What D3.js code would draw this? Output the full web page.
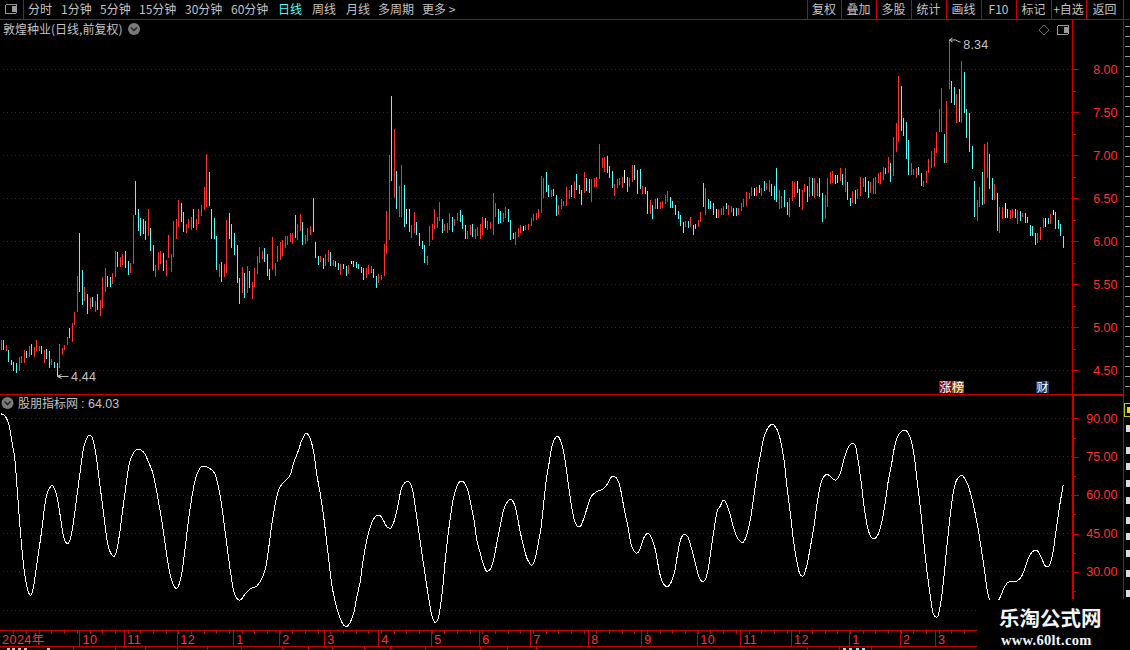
<!DOCTYPE html>
<html>
<head>
<meta charset="utf-8">
<title>敦煌种业</title>
<script src="https://cdn.jsdelivr.net/npm/d3@7"></script>
<style>
html, body { margin: 0; padding: 0; background: #000; overflow: hidden; }
svg { display: block; }
text { font-family: "Noto Sans CJK SC", "Liberation Sans", sans-serif; font-size: 12px; fill: #c4c4c4; }
.num { font-family: "Liberation Sans", sans-serif; font-size: 12.5px; fill: #ff3232; }
.domain { display: none; }
</style>
</head>
<body>
<div id="chart"></div>
<script>
// daily bars, only the high-low stroke is visible at this zoom level (one row = 10 bars)
var barHigh = [
  4.85,4.85,4.80,4.74,4.62,4.60,4.59,4.66,4.67,4.74,
  4.72,4.78,4.81,4.77,4.85,4.78,4.78,4.74,4.75,4.72,
  4.63,4.60,4.59,4.81,4.76,4.80,4.89,4.99,5.05,5.18,
  5.60,6.10,5.67,5.47,5.39,5.34,5.35,5.31,5.39,5.32,
  5.59,5.69,5.60,5.58,5.63,5.89,5.87,5.82,5.85,5.89,
  5.77,5.75,6.31,6.70,6.38,6.27,6.26,6.24,6.38,6.16,
  5.96,5.73,5.88,5.89,5.86,5.78,6.07,5.85,6.24,6.26,
  6.48,6.45,6.34,6.20,6.26,6.28,6.38,6.26,6.38,6.42,
  6.63,7.02,6.81,6.38,6.27,6.06,5.74,5.76,5.74,6.25,
  6.33,6.20,6.10,5.96,5.57,5.70,5.63,5.71,5.66,5.53,
  5.69,5.83,5.93,5.89,5.92,5.85,5.68,6.05,5.75,5.95,
  5.99,6.02,6.06,6.06,6.10,6.10,6.31,6.20,6.32,6.23,
  6.07,6.16,6.18,6.50,5.99,5.83,5.83,5.81,5.85,5.90,
  5.88,5.78,5.77,5.75,5.74,5.74,5.71,5.72,5.77,5.77,
  5.76,5.74,5.70,5.69,5.69,5.72,5.71,5.68,5.60,5.62,
  5.61,5.97,6.35,7.00,7.69,7.31,6.82,6.64,6.89,6.66,
  6.38,6.38,6.19,6.34,6.23,6.10,6.00,5.96,5.83,6.18,
  6.20,6.38,6.28,6.46,6.26,6.20,6.21,6.33,6.28,6.26,
  6.33,6.36,6.31,6.19,6.12,6.19,6.20,6.14,6.17,6.20,
  6.28,6.27,6.24,6.23,6.56,6.45,6.38,6.35,6.33,6.40,
  6.38,6.25,6.10,6.11,6.16,6.19,6.18,6.19,6.20,6.27,
  6.32,6.33,6.38,6.76,6.74,6.81,6.66,6.60,6.61,6.54,
  6.42,6.49,6.47,6.63,6.60,6.66,6.70,6.78,6.66,6.60,
  6.81,6.74,6.73,6.73,6.74,6.75,7.13,6.97,6.98,6.99,
  6.87,6.82,6.67,6.73,6.74,6.75,6.83,6.75,6.74,6.89,
  6.89,6.83,6.84,6.64,6.63,6.59,6.48,6.42,6.49,6.50,
  6.46,6.47,6.54,6.59,6.52,6.47,6.42,6.35,6.31,6.23,
  6.24,6.24,6.28,6.19,6.20,6.25,6.34,6.68,6.62,6.49,
  6.47,6.45,6.37,6.38,6.39,6.41,6.45,6.42,6.41,6.39,
  6.39,6.39,6.45,6.49,6.57,6.56,6.63,6.62,6.63,6.66,
  6.62,6.70,6.68,6.71,6.67,6.64,6.85,6.60,6.53,6.60,
  6.46,6.50,6.70,6.69,6.70,6.61,6.60,6.67,6.64,6.75,
  6.74,6.74,6.68,6.74,6.56,6.54,6.74,6.81,6.82,6.77,
  6.77,6.85,6.78,6.85,6.69,6.50,6.58,6.60,6.61,6.75,
  6.74,6.75,6.70,6.69,6.74,6.75,6.79,6.81,6.86,6.85,
  6.98,6.91,7.21,7.38,7.92,7.81,7.43,7.39,7.18,6.91,
  6.84,6.85,6.86,6.79,6.70,6.82,6.96,7.05,7.09,7.27,
  7.54,7.78,7.25,7.63,8.34,7.86,7.79,7.71,7.77,8.10,
  7.97,7.54,7.49,7.11,6.70,6.48,6.63,6.81,7.13,7.15,
  7.02,6.74,6.67,6.56,6.40,6.40,6.45,6.38,6.36,6.38,
  6.38,6.36,6.35,6.33,6.33,6.28,6.19,6.18,6.10,6.10,
  6.17,6.27,6.27,6.27,6.32,6.36,6.34,6.25,6.20,6.06
];
var barLow = [
  4.74,4.74,4.72,4.60,4.56,4.49,4.47,4.49,4.59,4.58,
  4.64,4.65,4.68,4.66,4.73,4.72,4.69,4.59,4.63,4.53,
  4.56,4.53,4.44,4.53,4.68,4.74,4.80,4.87,4.83,5.03,
  5.18,5.41,5.26,5.31,5.16,5.21,5.24,5.18,5.20,5.13,
  5.23,5.41,5.47,5.47,5.50,5.59,5.70,5.70,5.72,5.69,
  5.61,5.63,5.74,6.31,6.12,6.06,6.09,6.02,6.06,5.89,
  5.65,5.59,5.67,5.74,5.65,5.60,5.81,5.64,5.82,6.03,
  6.17,6.22,6.11,6.10,6.16,6.13,6.16,6.13,6.20,6.29,
  6.36,6.40,6.41,6.03,6.03,5.67,5.59,5.53,5.59,5.63,
  6.03,5.92,5.84,5.52,5.27,5.40,5.34,5.40,5.46,5.33,
  5.47,5.62,5.75,5.80,5.76,5.60,5.55,5.67,5.60,5.76,
  5.78,5.83,5.92,5.96,5.99,5.97,6.04,6.02,6.12,5.96,
  5.97,6.00,6.07,6.11,5.81,5.72,5.76,5.68,5.71,5.76,
  5.71,5.71,5.70,5.67,5.61,5.68,5.60,5.62,5.74,5.70,
  5.69,5.68,5.63,5.55,5.57,5.62,5.63,5.57,5.46,5.52,
  5.55,5.60,5.85,6.02,6.70,6.50,6.38,6.28,6.28,6.17,
  6.20,6.11,6.04,6.10,6.07,5.95,5.91,5.75,5.72,5.95,
  6.02,6.14,6.16,6.24,6.10,6.12,6.10,6.13,6.11,6.18,
  6.24,6.23,6.14,6.03,6.03,6.07,6.05,6.03,6.06,6.03,
  6.07,6.16,6.13,6.14,6.07,6.28,6.20,6.21,6.23,6.27,
  6.23,6.02,6.03,5.96,6.05,6.10,6.12,6.13,6.13,6.18,
  6.24,6.25,6.27,6.33,6.50,6.57,6.52,6.52,6.53,6.30,
  6.31,6.37,6.41,6.41,6.49,6.52,6.50,6.60,6.55,6.42,
  6.56,6.59,6.56,6.46,6.63,6.63,6.73,6.85,6.81,6.80,
  6.74,6.62,6.53,6.62,6.66,6.62,6.68,6.57,6.63,6.69,
  6.71,6.55,6.61,6.55,6.55,6.32,6.32,6.26,6.38,6.38,
  6.38,6.39,6.43,6.46,6.39,6.39,6.31,6.26,6.18,6.10,
  6.17,6.16,6.17,6.07,6.14,6.17,6.23,6.40,6.31,6.37,
  6.38,6.31,6.27,6.27,6.31,6.31,6.37,6.31,6.34,6.30,
  6.30,6.31,6.35,6.40,6.41,6.49,6.53,6.53,6.53,6.56,
  6.53,6.59,6.60,6.57,6.53,6.48,6.46,6.37,6.39,6.40,
  6.31,6.28,6.47,6.51,6.56,6.40,6.36,6.57,6.46,6.51,
  6.53,6.50,6.53,6.51,6.22,6.26,6.40,6.67,6.68,6.67,
  6.68,6.70,6.66,6.57,6.48,6.41,6.45,6.43,6.49,6.53,
  6.63,6.57,6.50,6.56,6.55,6.55,6.68,6.67,6.71,6.78,
  6.79,6.69,6.76,7.04,7.15,7.28,7.22,6.96,6.77,6.77,
  6.77,6.74,6.77,6.64,6.63,6.68,6.79,6.85,6.86,7.03,
  7.27,7.27,6.91,6.91,7.77,7.61,7.58,7.38,7.39,7.38,
  7.49,7.20,7.04,6.84,6.28,6.24,6.40,6.42,6.43,6.74,
  6.61,6.48,6.48,6.12,6.10,6.26,6.27,6.27,6.26,6.27,
  6.27,6.20,6.24,6.28,6.21,6.21,6.06,6.06,5.96,5.98,
  6.01,6.15,6.17,6.20,6.20,6.31,6.14,6.14,6.06,5.92
];
// u = up, d = down, w = doji
var barType = (
  "u d u d d d d u u u " + "d u d u u u d u d d " + "u d d u u u u d u u " +
  "u d d u d u d u d u " + "u u d d u u d u u d " + "d u u d d d d d u d " +
  "d u u u d u u u u u " + "u d d u u u d u u u " + "u u d d d d u d u u " +
  "d d d d d u d u d u " + "u u u u d d d u u u " + "u u u u u u d u u d " +
  "u u u d d d u d u u " + "d u d d u d d u w d " + "d d d d u u u d d u " +
  "u u u u d u d u u d " + "w d u u d d d d u u " + "u u u u d u u u d u " +
  "u d d d u u d u u u " + "u d u u u u d d u u " + "d d d u u u w u u u " +
  "u u u u u d d u d d " + "u u u u u d u d d d " + "u d d u u u u u u d " +
  "d d u u u u w d u u " + "d d d u d d u d u d " + "u u u u d d d d d d " +
  "u d u d d u u d u d " + "d d w u u u d u u d " + "d u u u u u u w u d " +
  "u d u u d d d u u d " + "d u u u d d u u d u " + "d u u d d u u u u d " +
  "d u d u d d u d u u " + "u d d u u u u u u d " + "u d u u u d d d d u " +
  "u u d d u u u u u u " + "u u d u u d d u d u " + "d d d d d u u d u u " +
  "d d u d u u w d u u " + "d u d u d d d d d u " + "u u w d u w d d d d"
).split(" ");

var oscPoints = [
  [0,91.7],[1.1,91.3],[2.1,89.9],[3.2,86.7],[4.2,80.9],[5.3,74.4],[6.1,64.6],[7.6,45.1],[9.2,29.5],[10.9,21.6],
  [11.7,20.9],[12.6,23.6],[13.7,30.8],[15.8,45.1],[17.9,60.1],[19,62.7],[20.2,63.8],[21.2,62],[22.1,58.8],[23.2,52.2],
  [24.2,45.7],[25.3,41.8],[26.3,41],[27.4,43.5],[28.4,49],[30.5,64.6],[32.6,78.9],[33.7,82.2],[34.8,83.4],[35.8,82.6],
  [36.9,78.3],[37.9,71.8],[40,55.5],[42.1,40.5],[43.2,37.3],[44.4,36],[45.4,37.9],[46.5,43.8],[48.6,59.4],[50.7,73.1],
  [51.7,75.7],[52.8,77.4],[54.1,77.9],[55.4,77.4],[56.5,76.3],[58,73.1],[59.4,69.8],[60.7,64.6],[62,57.4],[63.3,50.3],
  [64.6,41.2],[65.9,32.7],[67,27.5],[68,24.6],[69.1,23.5],[70.2,25.3],[71.2,29.5],[72.3,37.3],[74.4,54.2],[76.5,65.9],
  [77.5,68.8],[78.8,71.1],[80.4,71.3],[82.4,70.3],[84,68.8],[85,65.9],[86.3,60.1],[88.4,45.1],[90.5,29.5],[91.6,22.9],
  [92.6,20.1],[93.7,19],[94.7,19.3],[96.2,21.4],[98.2,23.3],[100.8,24.5],[102.1,26.2],[104.1,30.8],[105.1,36.6],[107.3,52.2],
  [109.4,62],[110.7,64.3],[112.4,65.9],[114,67.9],[115.3,72.4],[117.3,77.6],[118.6,81.5],[120.3,84.1],[121.6,82.8],[123.2,77],
  [124.5,67.9],[125.8,60.7],[127.1,52.2],[129.2,34.7],[130.3,25.5],[131.3,20.3],[132.6,15.1],[134,11.2],[135,9.3],[136.3,8.6],
  [137.6,10.2],[139,13.8],[140.3,20.3],[141.6,26.2],[142.6,33.4],[143.7,39.9],[144.7,44.4],[145.8,48.3],[146.9,50.7],[148.2,52],
  [149.5,52],[150.8,50],[152.1,47.7],[153.4,47],[154.7,49],[155.8,52.9],[156.9,58.1],[157.9,62.7],[159,64.6],[160.1,65.4],
  [161.3,64.6],[162.4,61.4],[163.4,54.8],[165.5,40.5],[167.6,26.2],[169,17.7],[170,12.5],[171.1,10.3],[172.1,11],[173.2,16.4],
  [174.2,24.2],[175.3,36],[177.4,52.9],[178.4,58.8],[179.5,62.7],[180.5,64.9],[181.6,65.5],[182.6,64.9],[184,62],[185.3,56.1],
  [186.6,49.6],[187.6,42.5],[189,37.3],[190.3,32.7],[191.6,30.2],[192.9,31],[194.2,34.7],[195.5,41.2],[196.9,48.3],[198.2,54.2],
  [199.5,57.1],[201.1,58.4],[202.4,56.5],[203.7,50.9],[205,44.4],[206.1,39.9],[207.4,35.3],[209.2,32.6],[210.5,34.7],[211.6,39.9],
  [212.9,47],[214,56.8],[215,65.9],[216.1,72.4],[217.1,78.3],[218.2,81.8],[219.5,83],[220.8,80.9],[222.1,75.7],[223.4,66.6],
  [224.8,56.8],[226.1,50.3],[227.4,47.7],[228.4,47.7],[229.8,50.9],[231.1,54.8],[232.9,59.7],[235,61.4],[237.4,62.3],[239.3,64.6],
  [240.6,67],[241.9,67.3],[243.2,65.9],[244.5,61.4],[245.8,54.2],[247.1,48.3],[248.4,41.2],[249.5,38.3],[250.8,37.3],[252.1,39.2],
  [253.4,43.1],[255,45.1],[256.3,43.8],[257.9,39.2],[259,33.4],[260.3,27.5],[261.6,24.9],[262.9,24.2],[264.2,25.8],[265.5,29.5],
  [266.9,37.3],[268.2,43.1],[269.5,44.8],[270.8,43.8],[272.1,39.9],[273.5,34.7],[274.8,29.5],[276.1,26.5],[277.4,26.5],[278.7,30.1],
  [280,38.6],[281.3,47],[282.6,54.2],[283.7,55.8],[285,58.1],[286.3,56.1],[287.6,52.2],[289.2,46.4],[290.9,42.5],[292.5,41.4],
  [293.9,43.8],[295.5,50.3],[296.9,59.4],[298.2,68.5],[299.5,75.7],[300.8,82.2],[302.4,86.1],[304.1,87.7],[305.8,86.1],[307.4,81.5],
  [308.7,74.4],[310,63.3],[311.3,52.9],[312.7,41.2],[314,33.4],[315.3,28.8],[316.3,28.4],[317.7,32.1],[319,38.6],[320.6,47.7],
  [321.9,56.8],[323.2,64],[324.5,67.2],[325.8,68.1],[327.4,67],[329.1,65.8],[330.8,67.9],[332.4,73.7],[334,78.3],[335.3,80],
  [336.6,79.8],[337.9,74.4],[339.3,64.6],[340.6,54.2],[341.9,47],[343.2,43.5],[344.5,42.9],[345.8,44.4],[347.4,49.6],[348.7,56.8],
  [350,65.9],[351.3,72.4],[352.6,79.6],[354,83.5],[355.6,85.2],[356.9,85.2],[358.7,82.2],[360,76.3],[361.3,65.9],[362.7,54.2],
  [364,41.2],[365.3,29.5],[366.6,20.3],[367.9,13.2],[369.2,12.3],[370.5,17.1],[371.9,28.2],[373.2,41.2],[374.5,52.9],[375.8,62],
  [377.1,66.2],[379,67.6],[380.8,65.3],[382.9,58.8],[385,49],[386.3,41.2],[387.7,32.1],[389,22.9],[390,19],[391.9,17],
  [393.7,19.3],[395.6,23.6],[397.1,25.9],[398.8,26.3],[400.8,26.5],[402.5,28.2],[404.1,32.1],[405.8,36.6],[407.4,38.3],[408.7,38.3],
  [410.7,34.7],[412,32.3],[413.3,32.3],[414.6,36],[416,45.1],[417.3,54.2],[418.5,61.4],[419,64.03]
];

// axis labels
var priceTicks = [4.5, 5, 5.5, 6, 6.5, 7, 7.5, 8];
var oscTicks = [15, 30, 45, 60, 75, 90];
var monthLabels = ["2024年","10","11","12","1","2","3","4","5","6","7","8","9","10","11","12","1","2","3"];
var monthBars = [0,30.9,48.5,69.4,91.5,109.7,127.4,148.7,169.6,188.6,208.7,231.6,252.5,274.6,291.5,311.6,334.5,354.6,368.4];
var periodLabels = ["分时","1分钟","5分钟","15分钟","30分钟","60分钟","日线","周线","月线","多周期","更多 >"];
var buttonLabels = ["复权","叠加","多股","统计","画线","F10","标记","+自选","返回"];

// layout
var W = 1130, H = 650;
var periodX = [28,61,100,139,185,231,278,312,346,378,422];
var buttonEdge = [807,841,876,911,946,981,1016,1051,1086,1123];
var axisX = 1072, rightX = 1123, cutX = 977, cutY = 599;

var RED = "#c80000", GRID = "#a00000", UP = "#ff3232", DOWN = "#54fcfc", DOJI = "#ffffff";

var svg = d3.select("#chart").append("svg").attr("width", W).attr("height", H)
  .style("shape-rendering", "crispEdges");

var x = d3.scaleLinear().domain([0, barHigh.length - 1]).range([1.3, 1063.3]);
var y = d3.scaleLinear().domain([4.5, 8]).range([370.3, 69.3]);
var yOsc = d3.scaleLinear().domain([15, 90]).range([610.3, 418.3]);
var px = function(v) { return Math.floor(v) + 0.5; };

// grid lines
svg.append("g").selectAll("line").data(priceTicks).enter().append("line")
  .attr("x1", 3).attr("x2", axisX).attr("y1", function(d) { return px(y(d)); }).attr("y2", function(d) { return px(y(d)); })
  .attr("stroke", GRID).attr("stroke-dasharray", "1 3");
svg.append("g").selectAll("line").data(oscTicks).enter().append("line")
  .attr("x1", 3).attr("x2", axisX).attr("y1", function(d) { return px(yOsc(d)); }).attr("y2", function(d) { return px(yOsc(d)); })
  .attr("stroke", GRID).attr("stroke-dasharray", "1 3");

// bars
var barColor = { u: UP, d: DOWN, w: DOJI };
svg.append("g").selectAll("line").data(barHigh).enter().append("line")
  .attr("x1", function(d, i) { return px(x(i)); })
  .attr("x2", function(d, i) { return px(x(i)); })
  .attr("y1", function(d) { return Math.round(y(d)); })
  .attr("y2", function(d, i) { return Math.round(y(barLow[i])); })
  .attr("stroke", function(d, i) { return barColor[barType[i]]; });

// high / low flags
var hiIdx = d3.maxIndex(barHigh), loIdx = d3.minIndex(barLow);
var flags = svg.append("g");
flags.append("path")
  .attr("d", "M" + px(x(hiIdx)) + "," + y(barHigh[hiIdx]) + " l3,-2 m-3,2 l3,2 m-3,-2 l3,0 q3,-1 5,1 l3,1")
  .attr("fill", "none").attr("stroke", "#c4c4c4").style("shape-rendering", "auto");
flags.append("text").attr("x", x(hiIdx) + 14).attr("y", y(barHigh[hiIdx]) + 9).attr("class", "num").style("fill", "#c4c4c4").attr("letter-spacing", 0.2).text(d3.format(".2f")(barHigh[hiIdx]));
flags.append("path")
  .attr("d", "M" + px(x(loIdx)) + "," + (y(barLow[loIdx]) - 1) + " v2 l4,-2 m-4,2 l4,2 m-4,-2 h11")
  .attr("fill", "none").attr("stroke", "#c4c4c4").style("shape-rendering", "auto");
flags.append("text").attr("x", x(loIdx) + 14).attr("y", y(barLow[loIdx]) + 6).attr("class", "num").style("fill", "#c4c4c4").attr("letter-spacing", 0.2).text(d3.format(".2f")(barLow[loIdx]));

// indicator line, aliased like the original
svg.append("path").datum(oscPoints)
  .attr("d", d3.line().x(function(d) { return x(d[0]); }).y(function(d) { return yOsc(d[1]); }).curve(d3.curveCatmullRom))
  .attr("fill", "none").attr("stroke", "#fff").attr("stroke-width", 1);

// right axes
var priceAxis = svg.append("g").attr("transform", "translate(" + (axisX + 1) + ",0)")
  .call(d3.axisRight(y).tickValues(priceTicks).tickSize(6).tickFormat(d3.format(".2f")));
priceAxis.selectAll("line").attr("stroke", RED);
priceAxis.selectAll("text").attr("class", "num").attr("x", 44.5).attr("text-anchor", "end").attr("dy", "0.3em");
var priceMinor = d3.axisRight(y).tickValues(d3.range(4.75, 8, 0.5)).tickSize(3).tickFormat("");
svg.append("g").attr("transform", "translate(" + (axisX + 1) + ",0)").call(priceMinor).selectAll("line").attr("stroke", RED);

var oscAxis = svg.append("g").attr("transform", "translate(" + (axisX + 1) + ",0)")
  .call(d3.axisRight(yOsc).tickValues(oscTicks.slice(1)).tickSize(6).tickFormat(d3.format(".2f")));
oscAxis.selectAll("line").attr("stroke", RED);
oscAxis.selectAll("text").attr("class", "num").attr("x", 44.5).attr("text-anchor", "end").attr("dy", "0.3em");
var oscMinor = d3.axisRight(yOsc).tickValues(d3.range(22.5, 90, 15)).tickSize(3).tickFormat("");
svg.append("g").attr("transform", "translate(" + (axisX + 1) + ",0)").call(oscMinor).selectAll("line").attr("stroke", RED);

// frame
var frame = svg.append("g").attr("stroke", RED);
frame.append("line").attr("x1", 0).attr("x2", W).attr("y1", 19.5).attr("y2", 19.5);
frame.append("line").attr("x1", 23.5).attr("x2", 23.5).attr("y1", 0).attr("y2", 19);
frame.append("line").attr("x1", axisX + 0.5).attr("x2", axisX + 0.5).attr("y1", 19).attr("y2", cutY);
frame.append("line").attr("x1", axisX + 1.5).attr("x2", axisX + 1.5).attr("y1", 395).attr("y2", cutY);
frame.append("line").attr("x1", rightX + 0.5).attr("x2", rightX + 0.5).attr("y1", 0).attr("y2", cutY);
frame.append("line").attr("x1", 0).attr("x2", rightX).attr("y1", 394.5).attr("y2", 394.5);
frame.append("line").attr("x1", axisX).attr("x2", rightX).attr("y1", 395.5).attr("y2", 395.5);

// time axis
var timeAxis = svg.append("g").attr("stroke", RED);
timeAxis.append("line").attr("x1", 0).attr("x2", cutX).attr("y1", 630.5).attr("y2", 630.5);
timeAxis.append("line").attr("x1", 0).attr("x2", cutX).attr("y1", 646.5).attr("y2", 646.5);
timeAxis.selectAll(".wk").data(d3.range(5, 385, 5)).enter().append("line").attr("class", "wk")
  .attr("x1", function(d) { return px(x(d)); }).attr("x2", function(d) { return px(x(d)); })
  .attr("y1", 631).attr("y2", 634);
timeAxis.selectAll(".mo").data(monthBars.slice(1)).enter().append("line").attr("class", "mo")
  .attr("x1", function(d) { return px(x(d)); }).attr("x2", function(d) { return px(x(d)); })
  .attr("y1", 631).attr("y2", 646);
svg.append("g").selectAll("text").data(monthLabels).enter().append("text")
  .attr("x", function(d, i) { return i == 0 ? 2 : x(monthBars[i]) + 3; })
  .attr("y", 644).attr("class", "num").attr("letter-spacing", 0.5)
  .style("font-family", '"Liberation Sans","Noto Sans CJK SC",sans-serif')
  .text(function(d) { return d; });

// tabs cut off by the window bottom: only their edges and a sliver of ink show
var tabX = [73,115,145,177,207,241,282,308,332,364,390,425,480,507,536,807,839,871];
svg.append("g").selectAll("line").data(tabX).enter().append("line")
  .attr("x1", function(d) { return d + 0.5; }).attr("x2", function(d) { return d + 0.5; })
  .attr("y1", 647).attr("y2", H).attr("stroke", RED);
var tabInk = [[7,"#c4c4c4"],[12,"#c4c4c4"],[18,"#c4c4c4"],[24,"#c4c4c4"],[47,"#c4c4c4"],[843,DOWN],[849,DOWN],[856,DOWN],[862,DOWN]];
svg.append("g").selectAll("rect").data(tabInk).enter().append("rect")
  .attr("x", function(d) { return d[0]; }).attr("y", 648).attr("width", 3).attr("height", 2).attr("fill", function(d) { return d[1]; });

// toolbar
var tb = svg.append("g");
tb.selectAll("text").data(periodLabels).enter().append("text")
  .attr("x", function(d, i) { return periodX[i]; }).attr("y", 14)
  .style("fill", function(d) { return d == "日线" ? DOWN : "#c4c4c4"; })
  .text(function(d) { return d; });
tb.selectAll("line").data(buttonEdge).enter().append("line")
  .attr("x1", function(d) { return d + 0.5; }).attr("x2", function(d) { return d + 0.5; })
  .attr("y1", 0).attr("y2", 19).attr("stroke", RED);
svg.append("g").selectAll("text").data(buttonLabels).enter().append("text")
  .attr("x", function(d, i) { return (buttonEdge[i] + buttonEdge[i + 1]) / 2; }).attr("y", 14)
  .attr("text-anchor", "middle").text(function(d) { return d; });

// small box icons
function boxIcon(cx, cy) {
  svg.append("rect").attr("x", cx - 5.5).attr("y", cy - 4.5).attr("width", 11).attr("height", 9).attr("rx", 1.5)
    .attr("fill", "none").attr("stroke", "#9a9a9a");
  svg.append("rect").attr("x", cx + 0.5).attr("y", cy - 3).attr("width", 4).attr("height", 6).attr("fill", "#9a9a9a");
}
boxIcon(11, 9);
boxIcon(1063, 30);

function roundBtn(cx, cy) {
  svg.append("circle").attr("cx", cx).attr("cy", cy).attr("r", 6).attr("fill", "#7a7a7a").style("shape-rendering", "auto");
  svg.append("path").attr("d", "M" + (cx - 3) + "," + (cy - 1.5) + " l3,3 l3,-3").attr("fill", "none").attr("stroke", "#1c1c1c").attr("stroke-width", 1.3).style("shape-rendering", "auto");
}
roundBtn(134, 29);
roundBtn(7.5, 403);

svg.append("path").attr("d", "M1044,25 l5,5 l-5,5 l-5,-5 z").attr("fill", "none").attr("stroke", "#6e6e6e").style("shape-rendering", "auto");

// pane titles
svg.append("text").attr("x", 3).attr("y", 34).text("敦煌种业(日线,前复权)");
svg.append("text").attr("x", 18).attr("y", 408).text("股朋指标网");
svg.append("text").attr("x", 81).attr("y", 407.5).attr("class", "num").style("fill", "#c4c4c4").text(":  " + d3.format(".2f")(oscPoints[oscPoints.length - 1][1]));

// event chips
var chips = [["涨", 939, "#8c0d0d"], ["榜", 951.5, "#8c4a08"], ["财", 1036, "#0c3c70"]];
var chipG = svg.append("g");
chipG.selectAll("rect").data(chips).enter().append("rect")
  .attr("x", function(d) { return d[1]; }).attr("y", 381).attr("width", function(d) { return d[0] == "财" ? 13 : 12.5; }).attr("height", 12)
  .attr("fill", function(d) { return d[2]; });
chipG.selectAll("text").data(chips).enter().append("text")
  .attr("x", function(d) { return d[1] + 0.5; }).attr("y", 391.5).style("fill", "#fff").text(function(d) { return d[0]; });

// side strip is cut off by the window edge, only slivers of it show
var sideUpper = d3.range(26, 390, 10);
svg.append("g").selectAll("rect").data(sideUpper).enter().append("rect")
  .attr("x", 1125).attr("y", function(d) { return d; }).attr("width", 5)
  .attr("height", 1).attr("fill", "#9a9a9a");
svg.append("rect").attr("x", 1124.5).attr("y", 403.5).attr("width", 8).attr("height", 13).attr("fill", "none").attr("stroke", "#c8c800");
svg.append("rect").attr("x", 1127).attr("y", 407).attr("width", 3).attr("height", 6).attr("fill", "#e0e000");
var sideLower = [425,447,463,480,497,517,533,550,570,590];
svg.append("g").selectAll("rect").data(sideLower).enter().append("rect")
  .attr("x", 1126).attr("y", function(d) { return d; }).attr("width", 4).attr("height", 7).attr("fill", "#dcdcdc");

// watermark
svg.append("rect").attr("x", cutX + 1).attr("y", 600).attr("width", W - cutX).attr("height", 50).attr("fill", "#000");
svg.append("text").attr("x", 999).attr("y", 626).style("font-family", '"Noto Sans CJK SC"').style("font-size", "20.5px").style("font-weight", 700).style("fill", "#f2f6fa").text("乐淘公式网");
svg.append("text").attr("x", 1001).attr("y", 645).style("font-family", '"Liberation Serif"').style("font-size", "14.5px").style("font-weight", 700).style("fill", "#f2f6fa").attr("letter-spacing", 0.3).text("www.60lt.com");
</script>
</body>
</html>
